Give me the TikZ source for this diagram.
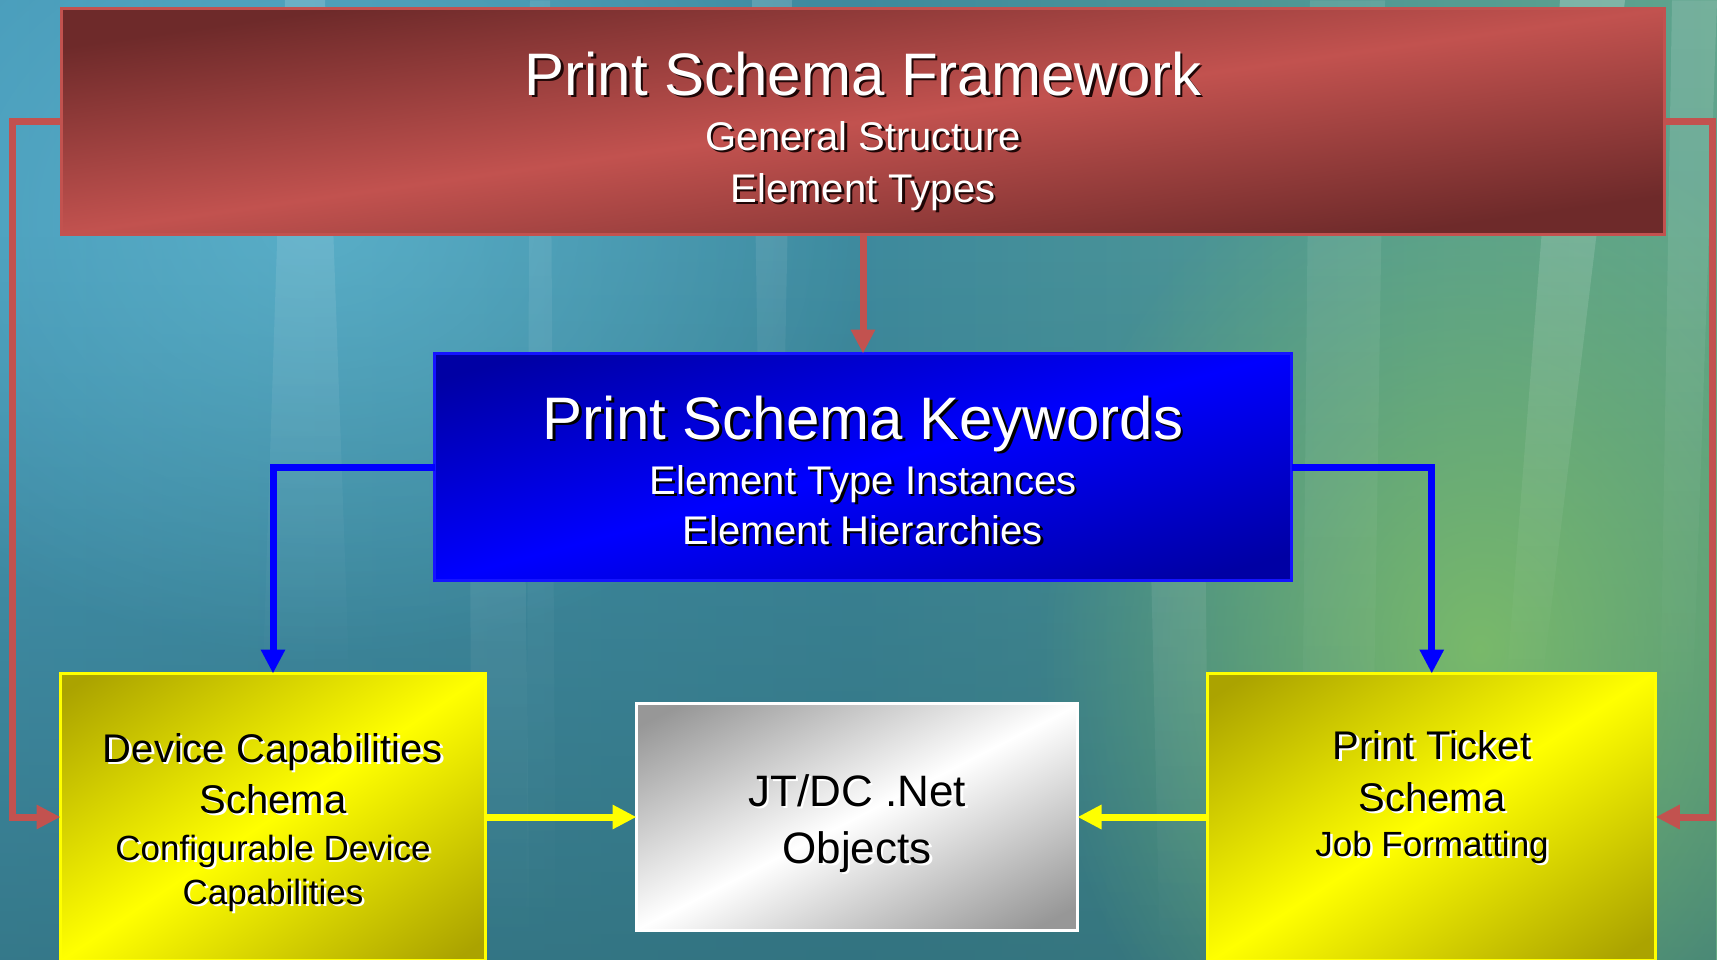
\documentclass[tikz,border=0pt]{standalone}
\usepackage{fontspec}
\setmainfont{Liberation Sans}
\usetikzlibrary{arrows.meta,fadings}
\definecolor{redmid}{HTML}{C2524F}
\definecolor{reddark}{HTML}{6E2A2A}
\definecolor{bluemid}{HTML}{0000FF}
\definecolor{bluedark}{HTML}{0000A4}
\definecolor{yelmid}{HTML}{FFFF00}
\definecolor{yeldark}{HTML}{ABA300}
\definecolor{graydark}{HTML}{979797}
\definecolor{bgL}{HTML}{4699B8}
\definecolor{bgM}{HTML}{3E8A9E}
\definecolor{bgR}{HTML}{5FA48C}
\definecolor{bgdark}{HTML}{2D6872}
\definecolor{bglight}{HTML}{6CC4DC}
\definecolor{bggreen}{HTML}{82C266}
\definecolor{redshadow}{HTML}{1E0606}
\tikzfading[name=softblob, inner color=transparent!0, outer color=transparent!100]
\newcommand{\stxt}[7]{%
  \node[txt, text=#6, font=\fontsize{#4}{#4}\selectfont] (#1s) at ({#2+2.5},{#3+2.5}) {#7};
  \node[txt, text=#5, font=\fontsize{#4}{#4}\selectfont] (#1) at (#2,#3) {#7};}
\tikzset{
  txt/.style={anchor=base, inner sep=0pt, outer sep=0pt},
  gradfill/.style n args={4}{fill=#3, path picture={%
    \begin{scope}[transform canvas={rotate around={#1:(path picture bounding box.center)}}]
      \shade[top color=#3, bottom color=#3, middle color=#4]
        ([shift={(-1500,-#2/2)}]path picture bounding box.center) rectangle
        ([shift={(1500,#2/2)}]path picture bounding box.center);
    \end{scope}}},
  boxnode/.style={rectangle, inner sep=0pt, outer sep=0pt, line width=3pt},
  redbox/.style={boxnode, draw=redmid, gradfill={8}{370}{reddark}{redmid}},
  bluebox/.style={boxnode, draw=blue!92!white, gradfill={15}{390}{bluedark}{bluemid}},
  yelbox/.style={boxnode, draw=yelmid, gradfill={#1}{440}{yeldark}{yelmid}},
  graybox/.style={boxnode, draw=white, gradfill={27}{360}{graydark}{white}},
  conn/.style={line width=7pt, -{Triangle[length=24pt,width=23pt]}},
  redconn/.style={conn, draw=redmid},
  blueconn/.style={conn, draw=bluemid},
  yelconn/.style={conn, draw=yelmid},
  streak/.style={fill=white, fill opacity=#1, path fading=south},
  streak/.default=0.12
}
\begin{document}
\begin{tikzpicture}[x=1pt,y=-1pt]
\useasboundingbox (0,0) rectangle (1717,959);
\begin{scope}
\clip (0,0) rectangle (1717,959);
% background
\shade[left color=bgL, right color=bgR, middle color=bgM] (0,0) rectangle (1717,959);
\fill[bgdark, path fading=north, fill opacity=0.75] (0,236) rectangle (1717,1060);
\fill[bglight, path fading=softblob, fill opacity=0.55] (320,220) ellipse (560 and 440);
\fill[bggreen, path fading=softblob, fill opacity=0.85] (1480,650) ellipse (440 and 540);
% streaks
\fill[streak=0.16] (285,0) -- (325,0) -- (350,700) -- (262,700) -- cycle;
\fill[streak=0.10] (530,0) -- (550,0) -- (556,959) -- (526,959) -- cycle;
\fill[streak=0.16] (752,0) -- (792,0) -- (782,520) -- (760,520) -- cycle;
\fill[streak=0.10] (1310,0) -- (1385,0) -- (1370,959) -- (1300,959) -- cycle;
\fill[streak=0.22] (1560,0) -- (1625,0) -- (1540,700) -- (1505,700) -- cycle;
\fill[streak=0.14] (1672,0) -- (1717,0) -- (1692,720) -- (1660,720) -- cycle;
\fill[streak=0.08] (470,520) -- (525,520) -- (530,959) -- (472,959) -- cycle;
\fill[streak=0.10] (1150,520) -- (1205,520) -- (1210,959) -- (1160,959) -- cycle;
% boxes
\node[redbox, minimum width=1603pt, minimum height=226pt] (fw) at (863,121.5) {};
\node[bluebox, minimum width=857pt, minimum height=227pt] (kw) at (863,467) {};
\node[yelbox=34, minimum width=425pt, minimum height=287pt] (dc) at (273,817) {};
\node[yelbox=33, minimum width=448pt, minimum height=287pt] (pt) at (1431.75,817) {};
\node[graybox, minimum width=441pt, minimum height=227pt] (jt) at (857,817) {};
% connectors
\coordinate (L) at (12,817);
\coordinate (R) at (1712,817);
\draw[redconn] (fw.south) -- (kw.north);
\draw[redconn] (fw.west) -| (L) -- (dc.west);
\draw[redconn] (fw.east) -| (R) -- (pt.east);
\draw[blueconn] (kw.west) -| (dc.north);
\draw[blueconn] (kw.east) -| (pt.north);
\draw[yelconn] (dc.east) -- (jt.west);
\draw[yelconn] (pt.west) -- (jt.east);
% texts
\stxt{t1}{863}{95}{60}{white}{redshadow}{Print Schema Framework}
\stxt{t2}{863}{150}{40}{white}{redshadow}{General Structure}
\stxt{t3}{863}{202}{40}{white}{redshadow}{Element Types}
\stxt{k1}{863}{439}{60}{white}{black}{Print Schema Keywords}
\stxt{k2}{863}{494}{40}{white}{black}{Element Type Instances}
\stxt{k3}{863}{544}{40}{white}{black}{Element Hierarchies}
\stxt{d1}{273}{762}{40}{black}{white}{Device Capabilities}
\stxt{d2}{273}{813}{40}{black}{white}{Schema}
\stxt{d3}{273}{860}{35}{black}{white}{Configurable Device}
\stxt{d4}{273}{904}{35}{black}{white}{Capabilities}
\stxt{p1}{1432}{759}{40}{black}{white}{Print Ticket}
\stxt{p2}{1432}{811}{40}{black}{white}{Schema}
\stxt{p3}{1432}{856}{35}{black}{white}{Job Formatting}
\stxt{j1}{857}{806}{44}{black}{white}{JT/DC .Net}
\stxt{j2}{857}{863}{44}{black}{white}{Objects}
\end{scope}
\end{tikzpicture}
\end{document}
